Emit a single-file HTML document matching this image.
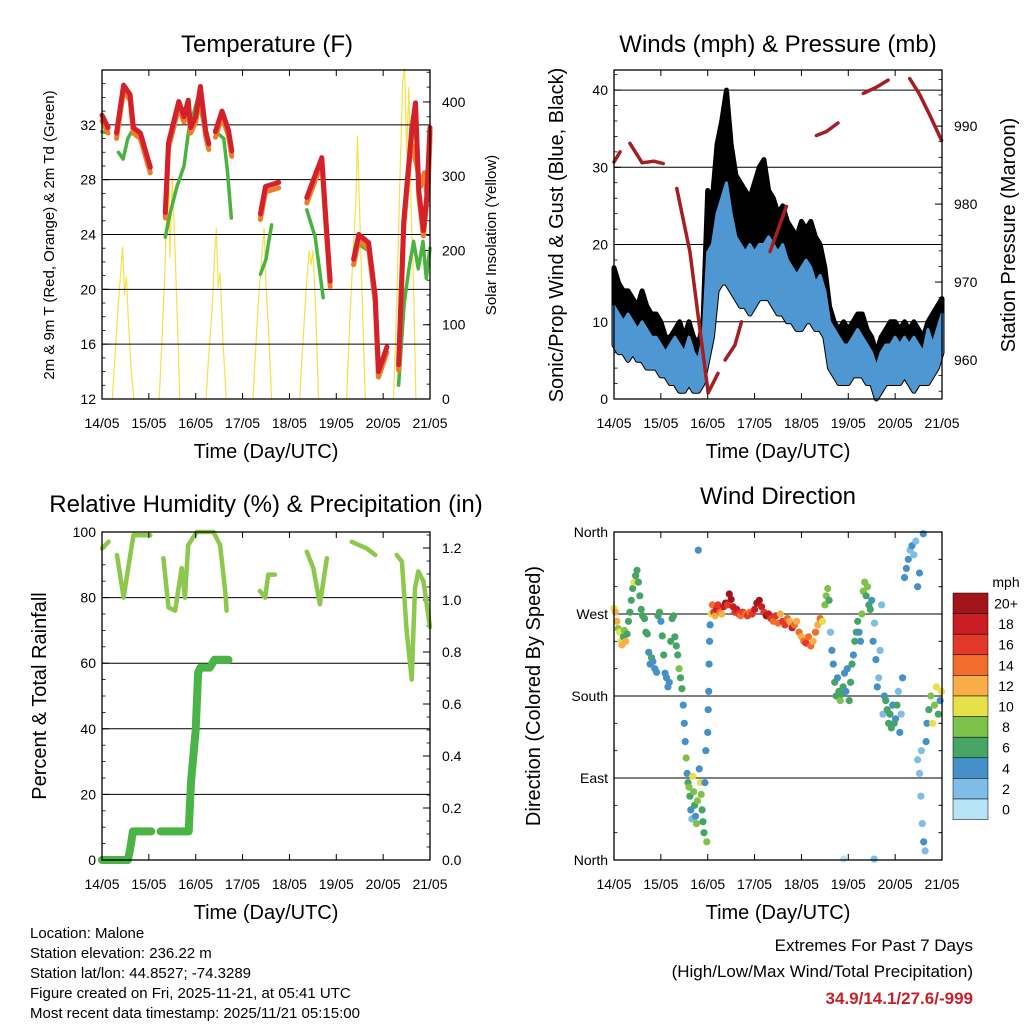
<!DOCTYPE html>
<html><head><meta charset="utf-8"><style>
html,body{margin:0;padding:0;background:#fff}
svg{display:block;font-family:"Liberation Sans",sans-serif}
</style></head><body>
<svg id="s" width="1024" height="1024" viewBox="0 0 1024 1024" xmlns="http://www.w3.org/2000/svg">
<g id="g"></g>
<g font-size="15" fill="#000">
<text x="30" y="938">Location: Malone</text>
<text x="30" y="958">Station elevation: 236.22 m</text>
<text x="30" y="978">Station lat/lon: 44.8527; -74.3289</text>
<text x="30" y="998">Figure created on Fri, 2025-11-21, at 05:41 UTC</text>
<text x="30" y="1018">Most recent data timestamp: 2025/11/21 05:15:00</text>
</g>
<g text-anchor="end">
<text x="973" y="951" font-size="17">Extremes For Past 7 Days</text>
<text x="973" y="977" font-size="17">(High/Low/Max Wind/Total Precipitation)</text>
<text x="973" y="1004" font-size="17" font-weight="bold" fill="#c8202a">34.9/14.1/27.6/-999</text>
</g>
</svg>
<script>
// ---------- DATA ----------
const dayLabels=["14/05","15/05","16/05","17/05","18/05","19/05","20/05","21/05"];
const tRedT=[[0,0.13],[0.31,0.46,0.6,0.67,0.82,1.03],[1.35,1.42,1.64,1.75,1.84,1.89,2.0,2.1,2.21,2.28],[2.42,2.56,2.7,2.77],[3.38,3.49,3.77],[4.37,4.48,4.69,4.8,4.87],[5.37,5.48,5.69,5.83,5.9,6.08],[6.33,6.44,6.61,6.69,6.76,6.86,6.93,7.0]];
const tRedV=[[32.7,31.8],[31.4,34.9,34.2,31.8,31.4,28.9],[25.6,30.7,33.7,32.6,33.8,31.8,32.6,34.8,31.6,30.6],[31.5,33,31.6,30.1],[25.5,27.5,27.8],[26.7,27.7,29.6,24,20.6],[22.2,24,23.4,19.5,14,15.8],[14.5,25,31.6,33.6,27.2,24.3,26.7,31.8]];
const tOrgT=[[6.62,6.72,6.8,6.88,6.95,7.0]];
const tOrgV=[[30.5,29,27.5,28.5,26.5,31]];
const tGrnT=[[0,0.13],[0.35,0.45,0.55,0.65,0.8,1.03],[1.35,1.45,1.6,1.75,1.85,2.05,2.2],[2.42,2.6,2.68,2.76],[3.38,3.5,3.55,3.62],[4.37,4.55,4.72],[5.37,5.48,5.69,5.83,5.9],[6.33,6.45,6.55,6.65,6.75,6.85,6.92,7.0]];
const tGrnV=[[31.5,31.4],[30,29.5,31,31.6,31,28.9],[23.8,25.5,27.5,29,31.6,34,31.5],[31.5,31,28.5,25.2],[21.1,22.2,23.3,24.7],[25.8,23.8,19.4],[21.8,23.3,22.8,19.5,15.4],[13,19,21.5,23.5,21.5,23.5,20.8,23]];
const solT=[0.22,0.28,0.34,0.4,0.44,0.48,0.52,0.56,0.62,0.68,1.22,1.28,1.34,1.38,1.42,1.45,1.5,1.55,1.6,1.66,2.22,2.28,2.35,2.4,2.44,2.48,2.52,2.58,2.65,3.22,3.3,3.36,3.42,3.46,3.5,3.55,3.62,4.22,4.3,4.36,4.42,4.46,4.5,4.56,4.62,5.22,5.3,5.36,5.42,5.45,5.5,5.56,5.62,6.22,6.3,6.36,6.42,6.46,6.5,6.55,6.6,6.65,6.7];
const solV=[0,60,120,170,205,140,165,110,40,0,0,80,170,250,330,190,300,220,120,0,0,60,120,190,230,150,170,80,0,0,90,150,200,230,150,100,0,0,90,150,200,180,200,120,0,0,120,200,270,355,250,120,0,0,150,300,430,445,330,420,250,150,0];
const windHi=[12,11,10,11,10,9,10,9,8,8,7,6,7,8,7,6,8,6,5,8,19,20,24,26,28,24,21,20,19,20,19,20,20,21,20,19,20,18,17,16,17,18,17,15,16,14,10,9,8,7,7,8,9,8,7,6,4,6,7,7,8,7,8,7,8,7,6,9,7,9,11];
const windLo=[7,6,6,5,6,5,5,4,4,4,3,3,2,2,1,1,2,1,1,2,5,8,14,15,15,14,13,12,12,11,12,13,13,13,12,11,11,10,10,9,9,10,10,9,9,8,4,3,2,2,2,3,3,3,2,2,0,1,2,2,2,2,3,2,1,2,2,2,3,4,6];
const gust=[17,15,14,14,13,12,14,12,11,11,10,8,8,9,10,8,10,8,7,10,27,26,33,36,40,33,29,28,27,26,28,30,31,27,26,24,25,23,22,21,23,22,23,21,20,17,12,10,9,10,9,10,11,11,9,8,6,8,9,10,10,9,10,9,10,9,8,10,11,12,13];
const presT=[[0,0.13],[0.34,0.6,0.85,1.05],[1.34,1.62,1.84,2.01,2.22],[2.37,2.58,2.72],[3.33,3.68],[4.32,4.53,4.78],[5.32,5.6,5.85],[6.31,6.52,6.74,6.99]];
const presV=[[985.4,986.7],[987.8,985.3,985.5,985.2],[982,973.9,963.6,955.8,958.3],[960,961.9,964.9],[973.9,979.7],[988.8,989.3,990.4],[994.2,995,995.9],[996.1,994.1,991.4,988.2]];
const rhT=[[0,0.14],[0.32,0.46,0.56,0.67,1.03],[1.31,1.42,1.56,1.7,1.77,1.84,2.02,2.38,2.52,2.63,2.66],[3.37,3.48,3.55,3.69],[4.37,4.51,4.65,4.8],[5.33,5.65,5.83],[6.29,6.4,6.5,6.61,6.68,6.75,6.86,7.0]];
const rhV=[[95,97],[93,80,89,99,99],[92,77,76,89,80,96,100,100,96,82,76],[82,80,87,87],[94,89,78,92],[97,95,93],[93,91,70,55,83,88,85,71]];
const prT=[[0,0.55,0.6,0.66,1.05],[1.25,1.85,1.9,2.0,2.05,2.1,2.3,2.4,2.7]];
const prV=[[0,0,0.04,0.11,0.11],[0.11,0.11,0.3,0.5,0.72,0.74,0.74,0.77,0.77]];
const wdT=[0,0.03,0.06,0.09,0.12,0.15,0.17,0.2,0.22,0.25,0.28,0.31,0.34,0.37,0.4,0.43,0.46,0.49,0.52,0.55,0.58,0.61,0.65,0.68,0.71,0.74,0.77,0.8,0.83,0.87,0.91,0.94,0.97,1,1.03,1.06,1.09,1.12,1.15,1.18,1.21,1.24,1.27,1.3,1.33,1.36,1.39,1.42,1.45,1.48,1.5,1.52,1.54,1.56,1.58,1.6,1.62,1.64,1.66,1.68,1.7,1.72,1.74,1.76,1.78,1.8,1.82,1.84,1.86,1.88,1.9,1.92,1.94,1.96,1.98,2,2.01,2.02,2.03,2.04,2.05,2.07,2.1,2.13,2.16,2.19,2.22,2.26,2.3,2.34,2.38,2.42,2.46,2.5,2.54,2.58,2.62,2.66,2.7,2.75,2.8,2.85,2.9,2.95,3,3.05,3.1,3.15,3.2,3.25,3.3,3.35,3.4,3.45,3.5,3.55,3.6,3.65,3.7,3.75,3.8,3.85,3.9,3.95,4,4.05,4.1,4.15,4.2,4.25,4.3,4.35,4.4,4.45,4.5,4.53,4.56,4.59,4.62,4.65,4.68,4.71,4.74,4.77,4.8,4.83,4.86,4.89,4.92,4.95,4.98,5.02,5.05,5.08,5.11,5.14,5.17,5.2,5.23,5.26,5.29,5.32,5.35,5.38,5.41,5.44,5.47,5.5,5.53,5.56,5.59,5.62,5.65,5.68,5.71,5.74,5.77,5.8,5.83,5.86,5.89,5.92,5.95,5.98,6.01,6.04,6.07,6.1,6.13,6.16,6.2,6.24,6.28,6.32,6.36,6.4,6.44,6.48,6.52,6.56,6.6,6.48,6.52,6.55,6.58,6.61,6.64,6.66,6.68,6.72,6.76,6.8,6.84,6.88,6.92,6.96,6.99,4.9,5.55];
const wdDir=[276,272,262,254,250,240,236,245,252,240,248,262,272,285,298,305,312,318,305,290,275,268,265,250,248,228,215,222,218,210,206,268,272,262,246,225,205,200,190,195,240,265,268,245,235,225,210,200,188,170,150,130,112,95,85,80,70,55,45,92,75,60,48,40,65,340,100,85,72,55,42,30,85,120,20,140,165,185,215,240,258,270,280,272,268,275,280,272,270,278,282,280,292,286,278,272,275,270,268,272,270,268,272,270,275,282,285,278,272,268,270,265,262,268,260,270,262,258,265,262,255,258,262,250,245,240,238,245,235,240,250,258,265,262,280,290,298,285,250,230,215,195,180,200,185,175,182,190,205,185,210,175,195,215,225,240,250,262,250,240,270,295,305,290,300,280,275,285,240,260,220,190,200,230,280,160,180,175,165,150,160,145,170,150,155,170,185,140,160,200,310,320,330,340,345,335,350,300,315,120,358,110,95,70,40,20,10,130,150,165,180,150,170,190,160,175,185,1,1];
const wdSpd=[10,12,12,8,10,10,12,7,8,12,6,7,6,6,7,10,6,6,7,6,6,7,7,6,6,4,4,6,4,4,4,6,6,4,7,6,4,4,4,4,6,6,6,6,6,6,8,6,6,4,4,4,8,4,6,8,6,4,2,10,8,6,4,8,8,4,4,10,8,6,6,6,4,4,8,4,4,4,4,4,4,10,14,16,12,18,16,14,12,18,20,16,20,20,18,16,18,16,14,16,14,16,14,16,18,20,20,18,16,20,18,16,14,16,14,12,16,16,14,12,18,14,12,14,12,14,16,14,14,12,14,12,14,10,8,8,8,6,2,4,4,6,6,4,6,8,6,6,4,4,4,6,6,6,4,6,6,6,4,4,8,8,8,6,8,6,6,4,4,2,4,4,2,2,2,2,4,6,6,6,6,6,4,6,4,6,2,4,2,4,4,4,4,2,4,2,2,4,4,2,4,2,2,2,2,4,2,4,4,6,8,10,8,10,6,4,10,0,2];
const cbLabels=["20+","18","16","14","12","10","8","6","4","2","0"];
const cbColors=["#a0141a","#c81e23","#e1382a","#f06d2b","#f9ad48","#e6e04b","#7dc34b","#46a464","#4690c8","#7dbde6","#b6e3f6"];

// ---------- DRAW ----------
const NS="http://www.w3.org/2000/svg";
const root=document.getElementById('g');
function mk(tag,attrs,parent){const e=document.createElementNS(NS,tag);for(const k in attrs)e.setAttribute(k,attrs[k]);(parent||root).appendChild(e);return e;}
function txt(x,y,s,size,anchor,parent,rot){const e=mk('text',{x:x,y:y,'font-size':size,'text-anchor':anchor||'middle'},parent);if(rot)e.setAttribute('transform','rotate(-90 '+x+' '+y+')');e.textContent=s;return e;}
function panel(name,x0,x1,y0,y1){
  const g=mk('g',{});
  
  
  return {g:g,x0:x0,x1:x1,y0:y0,y1:y1,X:d=>x0+(x1-x0)*d/7};
}
function frame(P){mk('rect',{x:P.x0,y:P.y0,width:P.x1-P.x0,height:P.y1-P.y0,fill:'none',stroke:'#000','stroke-width':1.3},P.g);}
function xaxis(P){
  const ax=mk('g',{},P.g);
  
  
  dayLabels.forEach((l,i)=>{const x=P.X(i);
    mk('line',{x1:x,x2:x,y1:P.y1,y2:P.y1-6,stroke:'#000'},ax);
    mk('line',{x1:x,x2:x,y1:P.y0,y2:P.y0+6,stroke:'#000'},ax);
    txt(x,P.y1+29,l,14,'middle',ax);});
  const t=txt((P.x0+P.x1)/2,P.y1+59,'Time (Day/UTC)',20,'middle',ax);
  
  
}
function yaxis(P,side,min,max,majors,labels,minorStep,fmt,grid){
  const ax=mk('g',{},P.g);
  
  
  const Y=v=>P.y1-(P.y1-P.y0)*(v-min)/(max-min);
  const xe=side==='left'?P.x0:P.x1, dir=side==='left'?1:-1;
  if(minorStep){for(let v=Math.ceil(min/minorStep)*minorStep;v<=max+1e-9;v+=minorStep){const y=Y(v);mk('line',{x1:xe,x2:xe+dir*3.5,y1:y,y2:y,stroke:'#000','stroke-width':0.8},ax);}}
  majors.forEach((v,i)=>{const y=Y(v);
    if(grid&&y>P.y0+1&&y<P.y1-1)mk('line',{x1:P.x0,x2:P.x1,y1:y,y2:y,stroke:'#000','stroke-width':1},ax);
    mk('line',{x1:xe,x2:xe+dir*7,y1:y,y2:y,stroke:'#000'},ax);
    txt(side==='left'?xe-6:xe+12,y+5,labels[i],14,side==='left'?'end':'start',ax);});
  return Y;
}
function polylines(P,Ts,Vs,Y,color,w,name){
  Ts.forEach((ts,i)=>{const pts=ts.map((t,j)=>P.X(t).toFixed(1)+','+Y(Vs[i][j]).toFixed(1)).join(' ');
    const e=mk('polyline',{points:pts,fill:'none',stroke:color,'stroke-width':w,'stroke-linejoin':'round','stroke-linecap':'round'},P.g);
    
    });
}

// Panel 1: Temperature
(function(){
  const P=panel('temperature-chart',102,430,70,399);
  txt(267,52,'Temperature (F)',24,'middle',P.g);
  const Ys=v=>P.y1-(P.y1-P.y0)*v/443;
  const sp=solT.map((t,i)=>P.X(t).toFixed(1)+','+Ys(solV[i]).toFixed(1));
  let seg=[],segs=[];solT.forEach((t,i)=>{seg.push(sp[i]);if(solV[i]===0&&seg.length>1){segs.push(seg);seg=[];}});
  segs.forEach(s=>{const e=mk('polyline',{points:s.join(' '),fill:'none',stroke:'#f7e04a','stroke-width':1.2},P.g);
    
    });
  const Y=yaxis(P,'left',12,36,[12,16,20,24,28,32],['12','16','20','24','28','32'],1,null,true);
  yaxis(P,'right',0,443,[0,100,200,300,400],['0','100','200','300','400'],20,null,false);
  polylines(P,tGrnT,tGrnV,Y,'#4ab23f',3.5,'dewpoint-line');
  polylines(P,tRedT,tRedV.map(a=>a.map(v=>v-0.4)),Y,'#f07b2a',5,'temp-9m-line');
  polylines(P,tOrgT,tOrgV,Y,'#f07b2a',5,'temp-9m-line');
  polylines(P,tRedT,tRedV,Y,'#d4202a',5,'temp-2m-line');
  frame(P);xaxis(P);
  txt(54,235,'2m & 9m T (Red, Orange) & 2m Td (Green)',15,'middle',P.g,true);
  txt(496,235,'Solar Insolation (Yellow)',15,'middle',P.g,true);
})();

// Panel 2: Winds & pressure
(function(){
  const P=panel('winds-pressure-chart',614,942,70,399);
  txt(778,52,'Winds (mph) & Pressure (mb)',24,'middle',P.g);
  const Y=yaxis(P,'left',0,42.6,[0,10,20,30,40],['0','10','20','30','40'],2,null,true);
  const Yp=yaxis(P,'right',955,997.2,[960,970,980,990],['960','970','980','990'],2,null,false);
  const tt=gust.map((_,i)=>i*0.1);
  const gpoly=tt.map((t,i)=>P.X(t)+','+Y(gust[i])).concat(tt.slice().reverse().map((t,k)=>{const i=tt.length-1-k;return P.X(t)+','+Y(windLo[i]);})).join(' ');
  let e=mk('polygon',{points:gpoly,fill:'#000',stroke:'#000','stroke-width':5,'stroke-linejoin':'round'},P.g);
  
  
  const bpoly=tt.map((t,i)=>P.X(t)+','+Y(windHi[i])).concat(tt.slice().reverse().map((t,k)=>{const i=tt.length-1-k;return P.X(t)+','+Y(windLo[i]);})).join(' ');
  e=mk('polygon',{points:bpoly,fill:'#4f97d2',stroke:'#4f97d2','stroke-width':3,'stroke-linejoin':'round'},P.g);
  
  
  polylines(P,presT,presV,Yp,'#a41e22',3.5,'pressure-line');
  frame(P);xaxis(P);
  txt(563,235,'Sonic/Prop Wind & Gust (Blue, Black)',20,'middle',P.g,true);
  txt(1015,235,'Station Pressure (Maroon)',20,'middle',P.g,true);
})();

// Panel 3: RH & precip
(function(){
  const P=panel('humidity-precip-chart',102,430,532,860);
  txt(266,512,'Relative Humidity (%) & Precipitation (in)',24,'middle',P.g);
  const Y=yaxis(P,'left',0,100,[0,20,40,60,80,100],['0','20','40','60','80','100'],5,null,true);
  const Yr=yaxis(P,'right',0,1.2615,[0,0.2,0.4,0.6,0.8,1.0,1.2],['0.0','0.2','0.4','0.6','0.8','1.0','1.2'],0.05,null,false);
  polylines(P,prT,prV,Yr,'#4ab446',8,'precip-line');
  polylines(P,rhT,rhV,Y,'#8cc84b',4.5,'rh-line');
  frame(P);xaxis(P);
  txt(46,696,'Percent & Total Rainfall',20,'middle',P.g,true);
})();

// Panel 4: Wind direction
(function(){
  const P=panel('wind-direction-chart',614,942,532,860);
  txt(778,504,'Wind Direction',24,'middle',P.g);
  const Y=yaxis(P,'left',0,360,[0,90,180,270,360],['North','East','South','West','North'],30,null,true);
  const col=s=>cbColors[10-Math.min(10,Math.floor(s/2))];
  wdT.forEach((t,i)=>{const c=mk('circle',{cx:P.X(t).toFixed(1),cy:Y(wdDir[i]).toFixed(1),r:3.6,fill:col(wdSpd[i])},P.g);
    
    });
  for(let v=0;v<=360;v+=30){const y=Y(v);mk('line',{x1:P.x1,x2:P.x1-(v%90?3.5:7),y1:y,y2:y,stroke:'#000'},P.g);}
  frame(P);xaxis(P);
  txt(540,696,'Direction (Colored By Speed)',20,'middle',P.g,true);
  const cb=mk('g',{},P.g);
  
  
  txt(1006,587,'mph',14,'middle',cb);
  cbColors.forEach((c,i)=>{const y=593+i*20.6;mk('rect',{x:953,y:y,width:35,height:20.6,fill:c,stroke:'#000','stroke-width':0.5},cb);
    txt(1006,y+15.5,cbLabels[i],14,'middle',cb);});
})();
</script>
</body></html>
